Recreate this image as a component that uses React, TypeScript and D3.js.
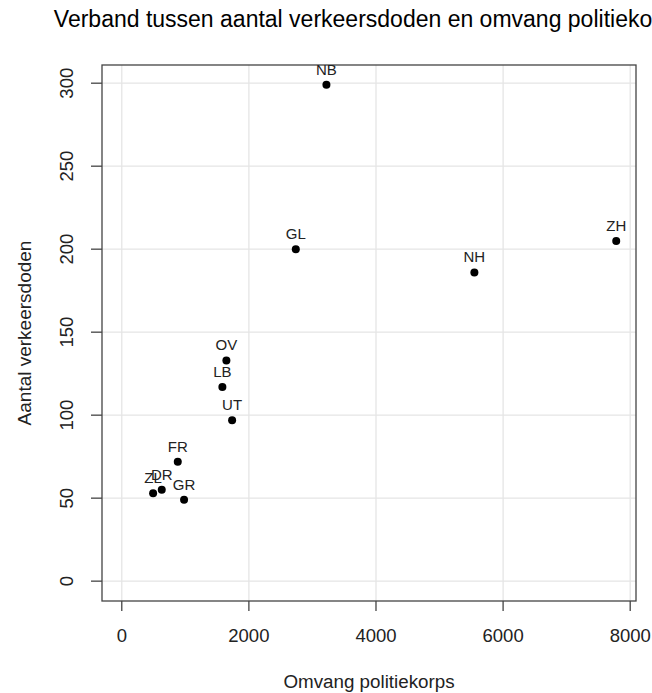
import React from 'react';
import * as d3 from 'd3';

// Korpsgrootte vs verkeersdoden per provincie
const provinces = ['GR', 'FR', 'DR', 'OV', 'GL', 'UT', 'NH', 'ZH', 'ZL', 'NB', 'LB'];
const korps = [980, 881, 629, 1646, 2738, 1736, 5548, 7780, 493, 3220, 1583];
const doden = [49, 72, 55, 133, 200, 97, 186, 205, 53, 299, 117];

const xTicks = [0, 2000, 4000, 6000, 8000];
const yTicks = [0, 50, 100, 150, 200, 250, 300];

const title = 'Verband tussen aantal verkeersdoden en omvang politiekorps';
const xLabel = 'Omvang politiekorps';
const yLabel = 'Aantal verkeersdoden';

const width = 652;
const height = 693;
const box = { left: 102, right: 636, top: 65, bottom: 601 };
const font = '"Liberation Sans", Arial, sans-serif';

export default function App() {
  // R style limits: c(0, max) extended by 4%
  const xMax = d3.max(korps) || 0;
  const yMax = d3.max(doden) || 0;
  const xScale = d3
    .scaleLinear()
    .domain([-0.04 * xMax, xMax * 1.04])
    .range([box.left, box.right]);
  const yScale = d3
    .scaleLinear()
    .domain([-0.04 * yMax, yMax * 1.04])
    .range([box.bottom, box.top]);

  const midX = (box.left + box.right) / 2;
  const midY = (box.top + box.bottom) / 2;

  return (
    <svg
      width={width}
      height={height}
      style={{ position: 'absolute', left: 0, top: 0, background: '#fff' }}
      fontFamily={font}
    >
      <rect width={width} height={height} fill="#fff" />

      {/* Grid */}
      <g stroke="#e5e5e5" strokeWidth={1.3}>
        {xTicks.map(t => (
          <line key={'gx' + t} x1={xScale(t)} x2={xScale(t)} y1={box.top} y2={box.bottom} />
        ))}
        {yTicks.map(t => (
          <line key={'gy' + t} x1={box.left} x2={box.right} y1={yScale(t)} y2={yScale(t)} />
        ))}
      </g>

      {/* Box */}
      <rect
        x={box.left}
        y={box.top}
        width={box.right - box.left}
        height={box.bottom - box.top}
        fill="none"
        stroke="#444"
        strokeWidth={1.3}
      />

      {/* X axis */}
      <g>
        {xTicks.map(t => (
          <g key={'xt' + t}>
            <line x1={xScale(t)} x2={xScale(t)} y1={box.bottom} y2={box.bottom + 10} stroke="#444" strokeWidth={1.3} />
            <text x={xScale(t)} y={642} textAnchor="middle" fontSize={18.5} fill="#222">
              {t}
            </text>
          </g>
        ))}
      </g>

      {/* Y axis */}
      <g>
        {yTicks.map(t => (
          <g key={'yt' + t}>
            <line x1={box.left - 11} x2={box.left} y1={yScale(t)} y2={yScale(t)} stroke="#444" strokeWidth={1.3} />
            <text
              transform={`translate(73,${yScale(t)}) rotate(-90)`}
              textAnchor="middle"
              fontSize={18.5}
              fill="#222"
            >
              {t}
            </text>
          </g>
        ))}
      </g>

      {/* Points */}
      {provinces.map((p, i) => (
        <circle key={'p' + p} cx={xScale(korps[i])} cy={yScale(doden[i])} r={4} fill="#000" />
      ))}

      {/* Point labels */}
      {provinces.map((p, i) => (
        <text
          key={'l' + p}
          x={xScale(korps[i])}
          y={yScale(doden[i]) - 10}
          textAnchor="middle"
          fontSize={15}
          fill="#222"
        >
          {p}
        </text>
      ))}

      {/* Titles */}
      <text x={midX} y={27} textAnchor="middle" fontSize={23} fill="#000">
        {title}
      </text>
      <text x={midX} y={688} textAnchor="middle" fontSize={18.8} fill="#222">
        {xLabel}
      </text>
      <text
        transform={`translate(31,${midY}) rotate(-90)`}
        textAnchor="middle"
        fontSize={19}
        fill="#222"
      >
        {yLabel}
      </text>
    </svg>
  );
}
